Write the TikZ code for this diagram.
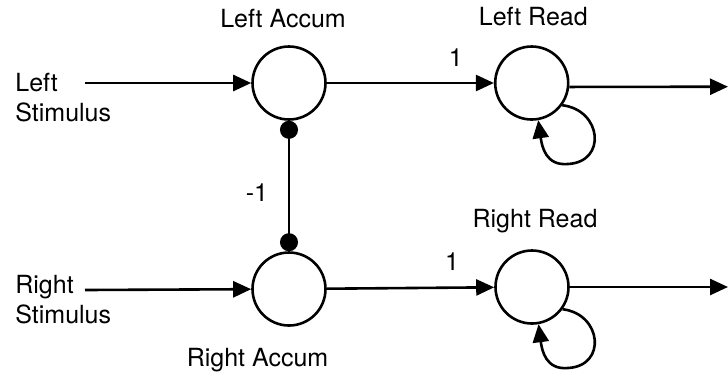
\documentclass[tikz,border=0pt]{standalone}
\usepackage{fontspec}
\setmainfont{TeX Gyre Heros}
\usetikzlibrary{arrows.meta}
\begin{document}
\begin{tikzpicture}[x=0.5pt,y=-0.5pt,
  unit/.style={circle,draw,line width=1.3pt,minimum size=36.5pt,inner sep=0pt},
  wire/.style={line width=1.3pt},
  excite/.style={wire,-{Triangle[length=9pt,width=8pt]}},
  inhibit/.style={wire,{Circle[length=9pt]}-{Circle[length=9pt]}},
  lbl/.style={font=\fontsize{12.5pt}{15pt}\selectfont,inner sep=0pt,anchor=base},
  stim/.style={lbl,anchor=base west,align=left}]
\useasboundingbox (0,0) rectangle (728,377);

% units
\node[unit] (la) at (289,83) {};
\node[unit] (lr) at (531.7,83) {};
\node[unit] (ra) at (289,289) {};
\node[unit] (rr) at (532,287) {};

% unit titles
\node[lbl] (tla) at (283,27.7) {Left Accum};
\node[lbl] (tlr) at (533.3,25) {Left Read};
\node[lbl] (trr) at (535,227.3) {Right Read};
\node[lbl] (tra) at (257.5,366.7) {Right Accum};

% inputs (base anchor sits on the last line)
\node[stim] (ls) at (15,121.7) {Left\\Stimulus};
\node[stim] (rs) at (15,323.3) {Right\\Stimulus};
\coordinate (lin) at (85,83);
\coordinate (rin) at (85,290);
\draw[excite] (lin) -- (la.west);
\draw[excite] (rin) -- (ra);

% accumulator to read-out
\draw[excite] (la) -- (lr);
\draw[excite] (ra) -- (rr);
\node[lbl] (w1) at (455.7,66.7) {1};
\node[lbl] (w2) at (452,270.5) {1};

% mutual inhibition
\draw[inhibit] (la.south) -- (ra.north);
\node[lbl] (wm) at (257,201.7) {-1};

% outputs
\coordinate (lout) at (728,86.7);
\coordinate (rout) at (728,287);
\draw[excite] (lr.-6) -- (lout);
\draw[excite] (rr.east) -- (rout);

% self loops
\draw[excite] (lr.-36) .. controls (602,110) and (607,162) .. (568,164)
  .. controls (546,166) and (542,147) .. (lr.-80);
\draw[excite] (rr.-36) .. controls (602,314) and (607,366) .. (568,368)
  .. controls (546,370) and (542,351) .. (rr.-80);
\end{tikzpicture}
\end{document}
